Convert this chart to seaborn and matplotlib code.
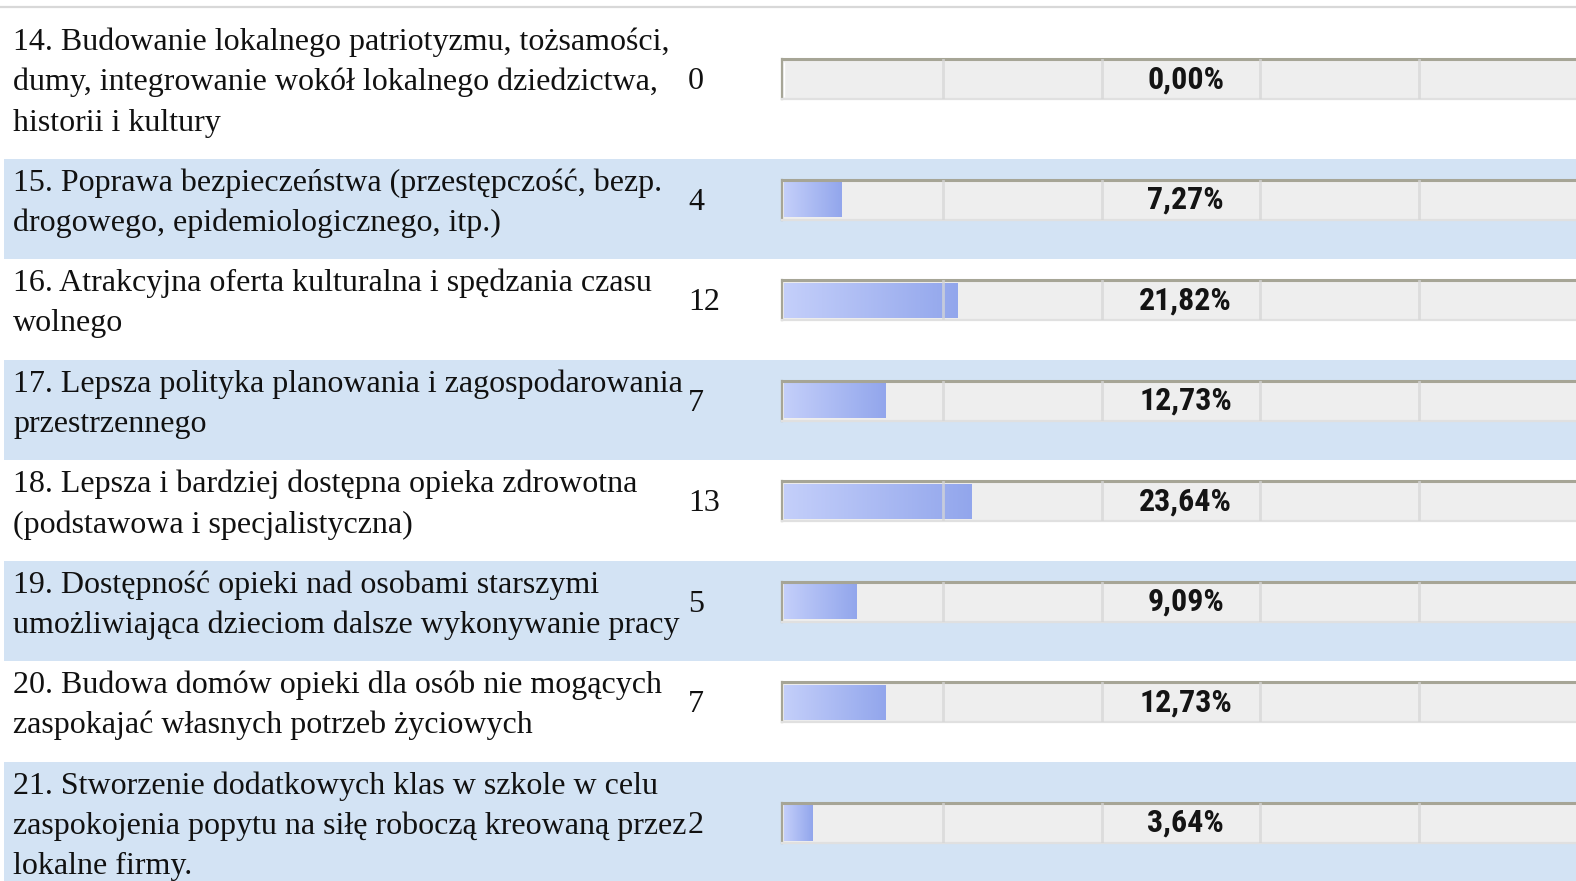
import numpy as np
import pandas as pd
import seaborn as sns
import matplotlib
matplotlib.use("Agg")
import matplotlib.pyplot as plt
from matplotlib.patches import Rectangle
from matplotlib.colors import LinearSegmentedColormap

# --- data ---
labels = [
    "14. Budowanie lokalnego patriotyzmu, tożsamości,\ndumy, integrowanie wokół lokalnego dziedzictwa,\nhistorii i kultury",
    "15. Poprawa bezpieczeństwa (przestępczość, bezp.\ndrogowego, epidemiologicznego, itp.)",
    "16. Atrakcyjna oferta kulturalna i spędzania czasu\nwolnego",
    "17. Lepsza polityka planowania i zagospodarowania\nprzestrzennego",
    "18. Lepsza i bardziej dostępna opieka zdrowotna\n(podstawowa i specjalistyczna)",
    "19. Dostępność opieki nad osobami starszymi\numożliwiająca dzieciom dalsze wykonywanie pracy",
    "20. Budowa domów opieki dla osób nie mogących\nzaspokajać własnych potrzeb życiowych",
    "21. Stworzenie dodatkowych klas w szkole w celu\nzaspokojenia popytu na siłę roboczą kreowaną przez\nlokalne firmy.",
]
counts = [0, 4, 12, 7, 13, 5, 7, 2]
percents = [0.00, 7.27, 21.82, 12.73, 23.64, 9.09, 12.73, 3.64]
grid_ticks = [20, 40, 60, 80]

sns.set_theme(style="white")
plt.rcParams["font.family"] = ["Liberation Serif", "DejaVu Serif"]

W, H = 1576, 881
row_blue = "#d3e3f4"
track_bg = "#eeeeee"
border_dark = "#a6a596"
pct_font = ["Roboto Condensed", "Liberation Sans Narrow", "DejaVu Sans"]
bar_cmap = LinearSegmentedColormap.from_list("bar", ["#c4cffa", "#92a6ec"])

fig = plt.figure(figsize=(W / 100, H / 100), dpi=100)
bg = fig.add_axes([0, 0, 1, 1])
bg.set_xlim(0, W)
bg.set_ylim(H, 0)
bg.axis("off")

# table top border
bg.axhline(6.5, color="#d8d8d8", lw=1.6)

track_x0 = 782
pitch = 40.25
top = 18
for i, (lab, n, p) in enumerate(zip(labels, counts, percents)):
    lines = lab.split("\n")
    h = pitch * len(lines) + 20
    if i % 2 == 1:
        bg.add_patch(Rectangle((4, top), W - 4, h, color=row_blue, lw=0, zorder=0))
    for k, line in enumerate(lines):
        bg.text(13, top + 32 + pitch * k, line, fontsize=23, color="#111111",
                va="baseline", ha="left")
    yc = top + 21 + pitch / 2 * (len(lines) - 1)
    bg.text(688, yc + 10, str(n), fontsize=23, color="#111111", va="baseline", ha="left")

    # bar track
    ax = fig.add_axes([track_x0 / W, 1 - (yc + 20) / H, (W - track_x0) / W, 40 / H])
    df = pd.DataFrame({"pct": [p], "row": [lab]})
    sns.barplot(data=df, x="pct", y="row", ax=ax, width=0.88, color="#a9b8f2",
                saturation=1, orient="h")
    ax.set_facecolor(track_bg)
    xlim = (-0.25, 99.75)
    ax.set_xlim(xlim)
    ylim = ax.get_ylim()
    for patch in ax.patches:
        bx0, by0 = patch.get_x(), patch.get_y()
        bw, bh = patch.get_width(), patch.get_height()
        if bw <= 0:
            continue
        grad = np.linspace(0, 1, 256).reshape(1, -1)
        im = ax.imshow(grad, cmap=bar_cmap, aspect="auto",
                       extent=[bx0, bx0 + bw, by0 + bh, by0], zorder=2)
        im.set_clip_path(patch)
        patch.set_facecolor("none")
        patch.set_edgecolor("none")
    ax.set_xlim(xlim)
    ax.set_ylim(ylim)
    for g in grid_ticks:
        ax.axvline(g, color="#d6d6d6", lw=2, alpha=0.75, zorder=3)
    ax.set_xlabel("")
    ax.set_ylabel("")
    ax.set_xticks([])
    ax.set_yticks([])
    ax.spines["right"].set_visible(False)
    ax.spines["top"].set_color(border_dark)
    ax.spines["top"].set_linewidth(2.2)
    ax.spines["left"].set_color(border_dark)
    ax.spines["left"].set_linewidth(1.6)
    ax.spines["bottom"].set_color("#e0e0e0")
    ax.spines["bottom"].set_linewidth(1.6)
    ax.text(50.6, 0.5, f"{p:.2f}".replace(".", ",") + "%", transform=ax.get_xaxis_transform(),
            ha="center", va="center", fontsize=23, fontweight="bold",
            color="#141414", family=pct_font, zorder=4)

    top += h

fig.savefig("out.png", dpi=100)
